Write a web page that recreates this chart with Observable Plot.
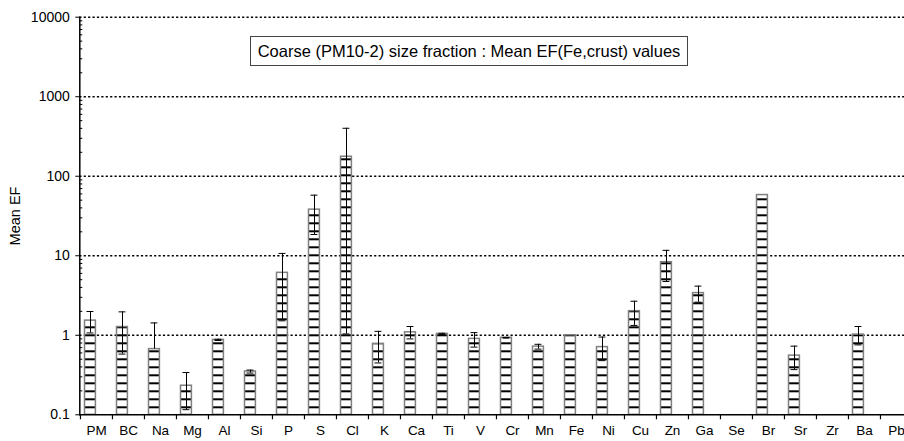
<!DOCTYPE html>
<html>
<head>
<meta charset="utf-8">
<script src="https://cdn.jsdelivr.net/npm/d3@7"></script>
<script src="https://cdn.jsdelivr.net/npm/@observablehq/plot@0.6"></script>
<style>
  body { margin: 0; background: #fff; }
  #wrap { position: relative; width: 904px; height: 441px; font-family: "Liberation Sans", Arial, sans-serif; }
  #title {
    position: absolute; left: 250px; top: 36px; width: 436px; height: 28px;
    border: 1.5px solid #444; background: #fff;
    font-size: 16.5px; line-height: 28px; text-align: center; color: #000;
    white-space: nowrap;
  }
</style>
</head>
<body>
<div id="wrap"><div id="title">Coarse (PM10-2) size fraction : Mean EF(Fe,crust) values</div></div>
<script>
// ---- data ----
const categories = ["PM","BC","Na","Mg","Al","Si","P","S","Cl","K","Ca","Ti","V","Cr","Mn","Fe","Ni","Cu","Zn","Ga","Se","Br","Sr","Zr","Ba","Pb"];
const means      = [1.53, 1.27, 0.67, 0.232, 0.875, 0.35, 6.1, 38, 176, 0.78, 1.09, 1.04, 0.90, 0.93, 0.72, 1.0, 0.71, 2.01, 8.3, 3.39, null, 58, 0.555, null, 1.02, null];
const errLow     = [1.07, 0.58, null, 0.116, 0.86, 0.335, 1.52, 18.5, 1.04, 0.449, 0.90, 1.02, 0.71, 0.92, 0.67, null, 0.48, 1.33, 4.75, 2.61, null, null, 0.37, null, 0.757, null];
const errHigh    = [1.99, 1.97, 1.43, 0.34, 0.89, 0.365, 10.7, 57.8, 401, 1.12, 1.29, 1.06, 1.08, 0.94, 0.77, null, 0.95, 2.68, 11.7, 4.15, null, null, 0.73, null, 1.29, null];
const yTicks     = [0.1, 1, 10, 100, 1000, 10000];
const gridLines  = [1, 10, 100, 1000, 10000];
const yDomain    = [0.1, 10000];
const minorTicks = [];
for (let e = -1; e < 4; e++) for (let m = 2; m <= 9; m++) minorTicks.push(m * Math.pow(10, e));

const rows = categories.map((c, i) => ({cat: c, mean: means[i], lo: errLow[i], hi: errHigh[i]}));
const barRows = rows.filter(d => d.mean != null);
const errRows = rows.filter(d => d.hi != null);
const lowCaps = errRows.filter(d => d.lo != null);

const step = (913.4 - 79.3) / categories.length;

const chart = Plot.plot({
  width: 904,
  height: 441,
  marginLeft: 79.3,
  marginRight: 0,
  marginTop: 16.7,
  marginBottom: 26.7,
  style: {fontFamily: "'Liberation Sans', Arial, sans-serif", fontSize: "13px", color: "#000", background: "transparent", overflow: "visible"},
  x: {type: "band", domain: categories, range: [79.3, 913.4], padding: 0},
  y: {type: "log", domain: yDomain, range: [414.3, 16.7]},
  marks: [
    Plot.ruleY(gridLines, {stroke: "#000", strokeWidth: 1.6, strokeDasharray: "2.2,2.2"}),
    Plot.barY(barRows, {x: "cat", y1: yDomain[0], y2: "mean", fill: "url(#hstripe)", stroke: "#808080", strokeWidth: 1.5, insetLeft: 4.5, insetRight: 16.6}),
    Plot.ruleX(errRows, {x: "cat", y1: d => d.lo ?? d.mean, y2: "hi", stroke: "#000", strokeWidth: 1, dx: -6}),
    Plot.tickY(errRows, {x: "cat", y: "hi", stroke: "#000", strokeWidth: 1, insetLeft: 6.5, insetRight: step - 13.5}),
    Plot.tickY(lowCaps, {x: "cat", y: "lo", stroke: "#000", strokeWidth: 1, insetLeft: 6.5, insetRight: step - 13.5}),
    Plot.ruleY([yDomain[0]], {stroke: "#000", strokeWidth: 1.5}),
    Plot.frame({anchor: "left", stroke: "#000", strokeWidth: 1.5}),
    Plot.axisY({ticks: yTicks, tickFormat: d => String(d), tickSize: 4, tickPadding: 6, fontSize: 14, label: null}),
    Plot.axisY({ticks: [], label: "Mean EF", labelAnchor: "center", labelOffset: 70, labelArrow: "none", fontSize: 14.5}),
    Plot.axisY({ticks: minorTicks, text: null, tickSize: -3, label: null}),
    Plot.axisX({tickSize: 0, tickPadding: 11, fontSize: 13.5, label: null}),
    Plot.axisX({text: null, tickSize: 5, dx: -step / 2, strokeWidth: 1.2, label: null})
  ]
});

// stripe pattern used as bar fill
const ns = "http://www.w3.org/2000/svg";
const defs = document.createElementNS(ns, "defs");
defs.innerHTML = `<pattern id="hstripe" patternUnits="userSpaceOnUse" x="0" y="414.3" width="10" height="8">
  <rect x="0" y="0" width="10" height="8" fill="#fff"/>
  <rect x="0" y="0" width="10" height="2" fill="#000"/>
</pattern>`;
chart.insertBefore(defs, chart.firstChild);

const wrap = document.getElementById("wrap");
chart.style.position = "absolute";
chart.style.left = "0";
chart.style.top = "0";
wrap.insertBefore(chart, wrap.firstChild);
</script>
</body>
</html>
